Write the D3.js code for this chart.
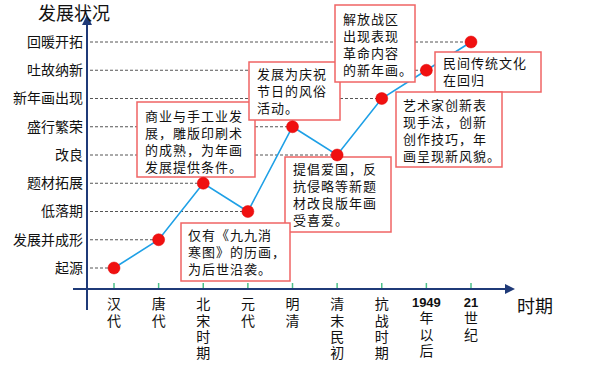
<!DOCTYPE html>
<html>
<head>
<meta charset="utf-8">
<script src="https://cdn.jsdelivr.net/npm/d3@7"></script>
<style>
  body { margin: 0; background: #fff; }
  svg { display: block; font-family: "Noto Sans CJK SC", sans-serif; }
</style>
</head>
<body>
<div id="chart"></div>
<script>
// periods on the x axis, development stages on the y axis
var periods = ["汉代", "唐代", "北宋时期", "元代", "明清", "清末民初", "抗战时期", "1949年以后", "21世纪"]
var stages = ["起源", "发展并成形", "低落期", "题材拓展", "改良", "盛行繁荣", "新年画出现", "吐故纳新", "回暖开拓"]
// stage reached in each period
var stageByPeriod = ["起源", "发展并成形", "题材拓展", "低落期", "盛行繁荣", "改良", "新年画出现", "吐故纳新", "回暖开拓"]

var notes = [
  ["商业与手工业发", "展，雕版印刷术", "的成熟，为年画", "发展提供条件。"],
  ["发展为庆祝", "节日的风俗", "活动。"],
  ["解放战区", "出现表现", "革命内容", "的新年画。"],
  ["民间传统文化", "在回归"],
  ["艺术家创新表", "现手法，创新", "创作技巧，年", "画呈现新风貌。"],
  ["提倡爱国，反", "抗侵略等新题", "材改良版年画", "受喜爱。"],
  ["仅有《九九消", "寒图》的历画，", "为后世沿袭。"]
]

var width = 600
var height = 365

var svg = d3.select("#chart").append("svg")
  .attr("width", width)
  .attr("height", height)

var x = d3.scalePoint().domain(periods).range([114, 471])
var y = d3.scalePoint().domain(stages).range([268, 42])

var axisX = 87, axisY = 289
var navy = "#1f3a78"

// arrow heads
var defs = svg.append("defs")
defs.append("marker")
  .attr("id", "arrow")
  .attr("viewBox", "0 0 10 10")
  .attr("refX", 5).attr("refY", 5)
  .attr("markerWidth", 5).attr("markerHeight", 5)
  .attr("orient", "auto")
  .append("path")
  .attr("d", "M0,0 L10,5 L0,10 z")
  .attr("fill", navy)

var points = periods.map(function(p, i) { return {period: p, stage: stageByPeriod[i]} })

// dashed guide lines from the y axis to each point
svg.selectAll(".guide")
  .data(points)
  .enter()
  .append("line")
    .attr("x1", axisX + 3)
    .attr("x2", function(d) { return x(d.period) })
    .attr("y1", function(d) { return y(d.stage) })
    .attr("y2", function(d) { return y(d.stage) })
    .attr("stroke", "#555")
    .attr("stroke-width", 1)
    .attr("stroke-dasharray", "3,2")

// axes
svg.append("line")
  .attr("x1", 73).attr("x2", 510)
  .attr("y1", axisY).attr("y2", axisY)
  .attr("stroke", navy).attr("stroke-width", 2)
  .attr("marker-end", "url(#arrow)")
svg.append("line")
  .attr("x1", axisX).attr("x2", axisX)
  .attr("y1", 310).attr("y2", 20)
  .attr("stroke", navy).attr("stroke-width", 2)
  .attr("marker-end", "url(#arrow)")

// green ticks
svg.selectAll(".tick")
  .data(periods)
  .enter()
  .append("line")
    .attr("x1", function(d) { return x(d) })
    .attr("x2", function(d) { return x(d) })
    .attr("y1", axisY - 6).attr("y2", axisY - 1)
    .attr("stroke", "#4cc08a").attr("stroke-width", 1.5)

// y labels
svg.selectAll(".ylab")
  .data(stages)
  .enter()
  .append("text")
    .attr("x", 83)
    .attr("y", function(d) { return y(d) })
    .attr("dy", "0.35em")
    .attr("text-anchor", "end")
    .style("font-size", "14px")
    .attr("fill", "#111")
    .text(function(d) { return d })

// x labels: leading digits stay horizontal, the rest runs top to bottom
var xl = svg.selectAll(".xlab")
  .data(periods)
  .enter()
  .append("g")
xl.each(function(d) {
  var g = d3.select(this)
  var num = (d.match(/^\d+/) || [""])[0]
  var rest = d.slice(num.length)
  var top = 297
  if (num) {
    g.append("text")
      .attr("x", x(d)).attr("y", 302).attr("dy", "0.35em")
      .attr("text-anchor", "middle")
      .style("font-family", "Arial, 'Liberation Sans', sans-serif")
      .style("font-weight", "bold")
      .style("font-size", "13px")
      .attr("fill", "#111")
      .text(num)
    top = 311
  }
  g.append("text")
    .attr("x", x(d)).attr("y", top)
    .style("writing-mode", "vertical-rl")
    .style("text-orientation", "upright")
    .style("letter-spacing", "2.3px")
    .style("font-size", "14px")
    .attr("fill", "#111")
    .text(rest)
})

// titles
svg.append("text")
  .attr("x", 38).attr("y", 14).attr("dy", "0.35em")
  .style("font-size", "18px").attr("fill", "#111")
  .text("发展状况")
svg.append("text")
  .attr("x", 517).attr("y", 307).attr("dy", "0.35em")
  .style("font-size", "18px").attr("fill", "#111")
  .text("时期")

// the line
var line = d3.line()
  .x(function(d) { return x(d.period) })
  .y(function(d) { return y(d.stage) })
svg.append("path")
  .datum(points)
  .attr("d", line)
  .attr("fill", "none")
  .attr("stroke", "#1ea0e6")
  .attr("stroke-width", 1.6)

// annotation boxes
var boxes = [
  {x: 137, y: 102, w: 118, h: 75, tx: 145, ty: 116},
  {x: 249, y: 62, w: 91, h: 58, tx: 257, ty: 74},
  {x: 335, y: 5, w: 80, h: 77, tx: 343, ty: 19},
  {x: 435, y: 52, w: 106, h: 40, tx: 443, ty: 63},
  {x: 396, y: 92, w: 106, h: 75, tx: 403, ty: 105},
  {x: 285, y: 157, w: 106, h: 75, tx: 293, ty: 169},
  {x: 181, y: 223, w: 109, h: 58, tx: 188, ty: 235}
]
var note = svg.selectAll(".note")
  .data(notes)
  .enter()
  .append("g")
note.append("rect")
  .attr("x", function(d, i) { return boxes[i].x })
  .attr("y", function(d, i) { return boxes[i].y })
  .attr("width", function(d, i) { return boxes[i].w })
  .attr("height", function(d, i) { return boxes[i].h })
  .attr("fill", "#fff")
  .attr("stroke", "#f06464")
  .attr("stroke-width", 1.5)
note.each(function(d, i) {
  var b = boxes[i]
  d3.select(this).selectAll("text")
    .data(d)
    .enter()
    .append("text")
      .attr("x", b.tx)
      .attr("y", function(t, j) { return b.ty + j * 17.3 })
      .attr("dy", "0.35em")
      .style("font-size", "13px")
      .style("letter-spacing", "1px")
      .attr("fill", "#111")
      .text(function(t) { return t })
})

// points on top
svg.selectAll(".dot")
  .data(points)
  .enter()
  .append("circle")
    .attr("cx", function(d) { return x(d.period) })
    .attr("cy", function(d) { return y(d.stage) })
    .attr("r", 6)
    .attr("fill", "#f01010")
    .attr("stroke", "#e00000")
    .attr("stroke-width", 0.5)
</script>
</body>
</html>
